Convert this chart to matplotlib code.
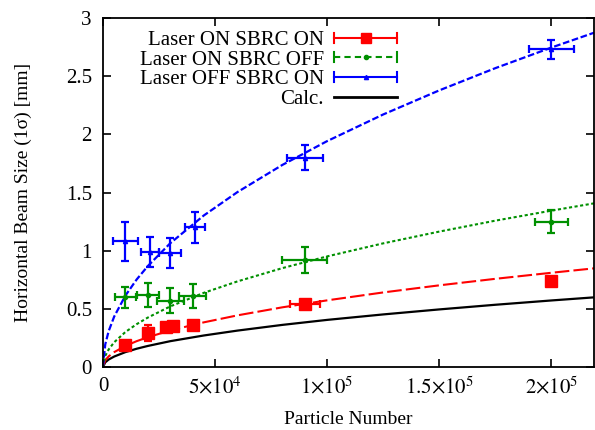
import matplotlib
matplotlib.use("Agg")
import matplotlib.pyplot as plt
from matplotlib.lines import Line2D
from matplotlib.legend_handler import HandlerLine2D

plt.rcParams['font.family'] = ['Liberation Serif', 'DejaVu Serif']
plt.rcParams['mathtext.fontset'] = 'stix'

# measured points (particle number, beam size, errors)
red_n = [1e4, 2e4, 2.8e4, 3.1e4, 4e4, 9e4, 2e5]
red_s = [0.19, 0.29, 0.34, 0.35, 0.36, 0.54, 0.74]
red_sy = [0.02, 0.07, 0.03, 0.03, 0.03, 0.03, 0.03]
red_sx = [1e3, 1e3, 1e3, 1e3, 1e3, 6.7e3, 1e3]

green_n = [1e4, 2e4, 3e4, 4e4, 9e4, 2e5]
green_s = [0.60, 0.62, 0.57, 0.61, 0.92, 1.25]
green_sy = [0.09, 0.10, 0.11, 0.10, 0.11, 0.10]
green_sx = [4.5e3, 5e3, 6e3, 6e3, 1e4, 7.5e3]

blue_n = [1e4, 2.1e4, 3e4, 4.1e4, 9e4, 2e5]
blue_s = [1.08, 0.99, 0.98, 1.20, 1.80, 2.73]
blue_sy = [0.17, 0.13, 0.13, 0.13, 0.11, 0.08]
blue_sx = [5.5e3, 4e3, 5e3, 4.5e3, 8e3, 1e4]

# fit curves
curve_n = [0, 1e3, 2.5e3, 5e3, 1e4, 1.5e4, 2e4, 3e4, 4.5e4, 6e4, 8e4, 1e5,
           1.25e5, 1.5e5, 1.75e5, 2e5, 2.2e5]
curve_blue = [0, 0.194, 0.307, 0.434, 0.614, 0.752, 0.868, 1.064, 1.303, 1.504,
              1.737, 1.942, 2.171, 2.378, 2.569, 2.746, 2.88]
curve_green = [0, 0.095, 0.150, 0.213, 0.301, 0.368, 0.425, 0.521, 0.638, 0.736,
               0.850, 0.951, 1.063, 1.164, 1.258, 1.344, 1.41]
curve_red = [0, 0.057, 0.091, 0.128, 0.181, 0.222, 0.256, 0.314, 0.384, 0.444,
             0.513, 0.573, 0.641, 0.702, 0.758, 0.810, 0.85]
curve_calc = [0, 0.040, 0.064, 0.090, 0.128, 0.157, 0.181, 0.222, 0.271, 0.313,
              0.362, 0.405, 0.452, 0.495, 0.535, 0.572, 0.60]

x_ticks = [0, 5e4, 1e5, 1.5e5, 2e5]
x_labels = ['0', r'$5{\times}10^{4}$', r'$1{\times}10^{5}$',
            r'$1.5{\times}10^{5}$', r'$2{\times}10^{5}$']
y_ticks = [0, 0.5, 1, 1.5, 2, 2.5, 3]
y_labels = ['0', '0.5', '1', '1.5', '2', '2.5', '3']

RED = '#ff0000'
GREEN = '#009000'
BLUE = '#0000ff'


class CapHandler(HandlerLine2D):
    # gnuplot style key: line with end caps
    def create_artists(self, legend, orig_handle, xdescent, ydescent,
                       width, height, fontsize, trans):
        arts = super().create_artists(legend, orig_handle, xdescent, ydescent,
                                      width, height, fontsize, trans)
        y = (height - ydescent) / 2
        h = height * 0.35
        for xx in (-xdescent, -xdescent + width):
            cap = Line2D([xx, xx], [y - h, y + h], color=orig_handle.get_color(),
                         lw=orig_handle.get_linewidth())
            cap.set_transform(trans)
            arts.append(cap)
        return arts


fig = plt.figure(figsize=(5.95, 4.3), dpi=100)
ax = fig.add_axes([103 / 595, 63 / 430, 491 / 595, 349 / 430])

ax.plot(curve_n, curve_calc, color='black', lw=1.6)
ax.plot(curve_n, curve_red, color=RED, lw=1.5, dashes=(7, 2))
ax.plot(curve_n, curve_green, color=GREEN, lw=1.5, dashes=(1.5, 1.2))
ax.plot(curve_n, curve_blue, color=BLUE, lw=1.6, dashes=(3, 1.2))

ekw = dict(ls='none', elinewidth=1.6, capsize=3.2, capthick=1.6)
ax.errorbar(red_n, red_s, yerr=red_sy, xerr=red_sx, color=RED, marker='s',
            ms=9, **ekw)
ax.errorbar(green_n, green_s, yerr=green_sy, xerr=green_sx, color=GREEN,
            marker='o', ms=3, **ekw)
ax.errorbar(blue_n, blue_s, yerr=blue_sy, xerr=blue_sx, color=BLUE,
            marker='^', ms=3, **ekw)

handles = [
    Line2D([], [], color=RED, lw=1.5, marker='s', ms=7),
    Line2D([], [], color=GREEN, lw=1.5, dashes=(3, 2), marker='o', ms=3),
    Line2D([], [], color=BLUE, lw=1.5, marker='^', ms=3),
    Line2D([], [], color='black', lw=2),
]
labels = ['Laser ON SBRC ON', 'Laser ON SBRC OFF', 'Laser OFF SBRC ON', 'Calc.']
hm = {h: CapHandler() for h in handles[:3]}
leg = ax.legend(handles, labels, handler_map=hm, loc='upper right',
                bbox_to_anchor=(0.624, 1.0), frameon=False, markerfirst=False,
                numpoints=1, fontsize=15, handlelength=3.0, handletextpad=0.5,
                labelspacing=0.0, borderaxespad=0.2)

ax.set_xlim(0, 2.19e5)
ax.set_ylim(0, 3)
ax.set_xticks(x_ticks)
ax.set_xticklabels(x_labels)
ax.set_yticks(y_ticks)
ax.set_yticklabels(y_labels)
ax.tick_params(direction='in', top=True, right=True, length=6, width=1.2,
               labelsize=15)
ax.tick_params(axis='y', pad=8)
ax.tick_params(axis='x', pad=7)
for sp in ax.spines.values():
    sp.set_linewidth(1.3)

ax.set_xlabel('Particle Number', fontsize=14, labelpad=9)
ax.set_ylabel('Horizontal Beam Size (1σ) [mm]', fontsize=14, labelpad=24)

fig.savefig('out.png', dpi=100)
